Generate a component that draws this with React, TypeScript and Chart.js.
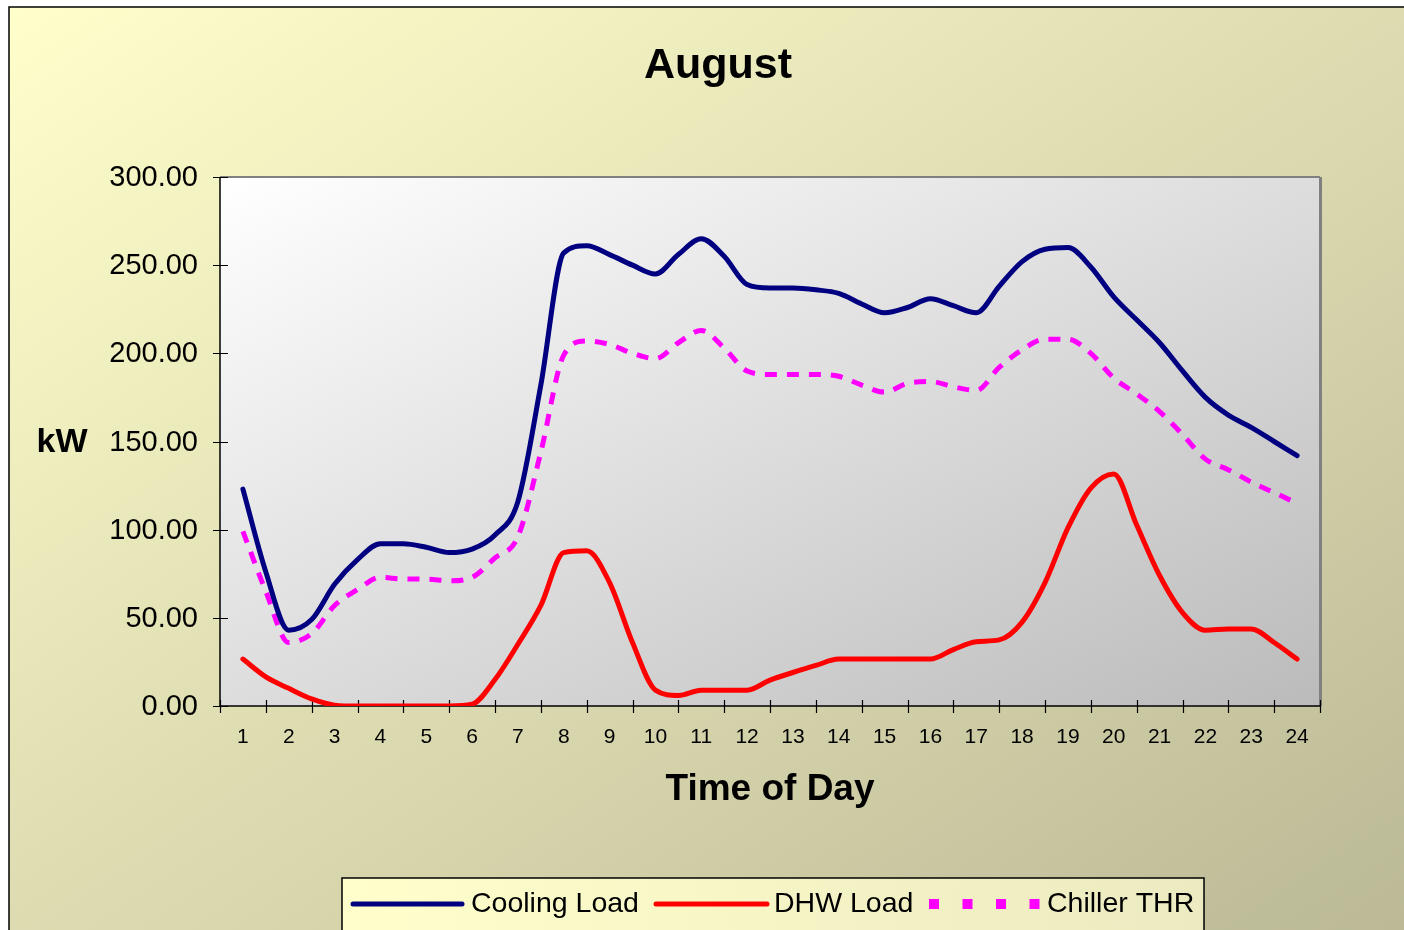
import { useEffect, useRef } from "react";
import { Chart, registerables } from "chart.js";

Chart.register(...registerables);

const W = 1404;
const H = 930;

const hours = [1, 1.5, 2, 2.5, 3, 3.5, 4, 4.5, 5, 5.5, 6, 6.5, 7, 7.5, 8, 8.5, 9, 9.5, 10, 10.5, 11, 11.5, 12, 12.5, 13, 13.5, 14, 14.5, 15, 15.5, 16, 16.5, 17, 17.5, 18, 18.5, 19, 19.5, 20, 20.5, 21, 21.5, 22, 22.5, 23, 23.5, 24];

const coolingLoad = [123, 76, 43, 49, 69, 83, 92, 92, 90, 87, 89, 97, 116, 182, 257, 261, 256, 250, 245, 256, 265, 255, 239, 237, 237, 236, 234, 228, 223, 226, 231, 227, 223, 238, 252, 259, 260, 249, 232, 219, 206, 190, 175, 165, 158, 150, 142];

const dhwLoad = [26.6, 16.5, 10, 4, 0.5, 0, 0, 0, 0, 0, 1, 15, 35, 57, 87, 88, 70, 36, 9, 6, 9, 9, 9, 14.7, 19, 23, 26.6, 26.6, 26.6, 26.6, 26.6, 32, 36.5, 37.5, 47.6, 70, 101, 123.6, 131.6, 102.6, 74, 53, 43, 43.7, 43.7, 36, 26.6];

const chillerTHR = [99, 65, 36, 41, 57, 66, 73, 72, 72, 71, 73, 84, 96, 144, 199, 207, 205, 200, 197, 206, 213, 203, 190, 188, 188, 188, 187, 182, 178, 183, 184, 181, 179, 192, 202, 208, 208, 200, 186, 177, 167, 154, 140, 134, 127, 121, 115];

const xTickLabels = Array.from({ length: 24 }, (_, i) => String(i + 1));
const yTickValues = [0, 50, 100, 150, 200, 250, 300];

const seriesNames = ["Cooling Load", "DHW Load", "Chiller THR"];
const seriesColors = ["#000080", "#FF0000", "#FF00FF"];

const FONT = "'Liberation Sans', Arial, sans-serif";

const toPoints = (vals: number[]) => vals.map((v, i) => ({ x: hours[i], y: v }));

const decorPlugin = {
  id: "decor",
  beforeDraw(chart: any) {
    const ctx = chart.ctx as CanvasRenderingContext2D;
    const { left, top, right, bottom } = chart.chartArea;
    ctx.save();
    const g = ctx.createLinearGradient(9, 7, 858, 1291);
    g.addColorStop(0, "#FFFFCC");
    g.addColorStop(1, "#BBB996");
    ctx.fillStyle = g;
    ctx.fillRect(9, 7, W, H);
    ctx.strokeStyle = "#000";
    ctx.lineWidth = 1.5;
    ctx.strokeRect(9, 7, W + 50, H + 50);
    const pg = ctx.createLinearGradient(left, top, left + 413, top + 859);
    pg.addColorStop(0, "#FFFFFF");
    pg.addColorStop(1, "#BBBBBB");
    ctx.fillStyle = pg;
    ctx.fillRect(left, top, right - left, bottom - top);
    ctx.strokeStyle = "#808080";
    ctx.lineWidth = 2;
    ctx.beginPath();
    ctx.moveTo(left, top);
    ctx.lineTo(right, top);
    ctx.stroke();
    ctx.lineWidth = 3;
    ctx.beginPath();
    ctx.moveTo(right + 0.5, top);
    ctx.lineTo(right + 0.5, bottom);
    ctx.stroke();
    ctx.restore();
  },
  beforeDatasetsDraw(chart: any) {
    const ctx = chart.ctx as CanvasRenderingContext2D;
    const { left, top, right, bottom } = chart.chartArea;
    const xs = chart.scales.x;
    const ys = chart.scales.y;
    ctx.save();
    ctx.strokeStyle = "#000";
    ctx.lineWidth = 1.5;
    ctx.beginPath();
    ctx.moveTo(left, top);
    ctx.lineTo(left, bottom);
    ctx.lineTo(right, bottom);
    ctx.stroke();
    ctx.lineWidth = 1.2;
    ctx.beginPath();
    yTickValues.forEach((v) => {
      const y = Math.round(ys.getPixelForValue(v)) + 0.5;
      ctx.moveTo(left - 7, y);
      ctx.lineTo(left + 8, y);
    });
    for (let i = 0; i <= 24; i++) {
      const x = Math.round(xs.getPixelForValue(i + 0.5)) + 0.5;
      ctx.moveTo(x, bottom - 6);
      ctx.lineTo(x, bottom + 7);
    }
    ctx.stroke();
    ctx.fillStyle = "#000";
    ctx.font = `29px ${FONT}`;
    ctx.textAlign = "right";
    ctx.textBaseline = "middle";
    yTickValues.forEach((v) => {
      ctx.fillText(v.toFixed(2), 198, ys.getPixelForValue(v) + 1);
    });
    ctx.font = `21px ${FONT}`;
    ctx.textAlign = "center";
    xTickLabels.forEach((lab, i) => {
      ctx.fillText(lab, xs.getPixelForValue(i + 1), 737);
    });
    ctx.restore();
  },
  afterDraw(chart: any) {
    const ctx = chart.ctx as CanvasRenderingContext2D;
    const { left, top, right, bottom } = chart.chartArea;
    ctx.save();
    ctx.fillStyle = "#000";
    ctx.textAlign = "center";
    ctx.textBaseline = "middle";
    ctx.font = `bold 43px ${FONT}`;
    ctx.fillText("August", 718, 66);
    ctx.font = `bold 37px ${FONT}`;
    ctx.fillText("Time of Day", (left + right) / 2, 790);
    ctx.font = `bold 34px ${FONT}`;
    ctx.fillText("kW", 62, (top + bottom) / 2 + 1);

    const lg = ctx.createLinearGradient(342, 878, 1204, 940);
    lg.addColorStop(0, "#FFFFCC");
    lg.addColorStop(1, "#ECEAC0");
    ctx.fillStyle = lg;
    ctx.fillRect(342, 878, 862, 80);
    ctx.strokeStyle = "#000";
    ctx.lineWidth = 1.5;
    ctx.strokeRect(342, 878, 862, 80);
    const ly = 904;
    const items = [
      { x0: 353, x1: 462, tx: 471 },
      { x0: 656, x1: 767, tx: 774 },
      { x0: 929, x1: 1040, tx: 1047 },
    ];
    items.forEach((it, i) => {
      ctx.strokeStyle = seriesColors[i];
      ctx.lineWidth = 5;
      if (i === 2) {
        ctx.fillStyle = seriesColors[i];
        for (let k = 0; k < 4; k++) {
          ctx.fillRect(it.x0 + k * 33.5, ly - 5, 10, 10);
        }
      } else {
        ctx.lineCap = "round";
        ctx.beginPath();
        ctx.moveTo(it.x0, ly);
        ctx.lineTo(it.x1, ly);
        ctx.stroke();
      }
      ctx.fillStyle = "#000";
      ctx.font = `28.5px ${FONT}`;
      ctx.textAlign = "left";
      ctx.textBaseline = "middle";
      ctx.fillText(seriesNames[i], it.tx, ly);
    });
    ctx.restore();
  },
};

const lineCommon = {
  borderWidth: 5,
  pointRadius: 0,
  cubicInterpolationMode: "monotone",
  borderJoinStyle: "round",
  fill: false,
};

export default function App() {
  const ref = useRef<HTMLCanvasElement>(null);
  useEffect(() => {
    if (!ref.current) return;
    const chart = new Chart(ref.current, {
      type: "line",
      data: {
        datasets: [
          {
            ...lineCommon,
            label: seriesNames[0],
            data: toPoints(coolingLoad),
            borderColor: seriesColors[0],
            borderCapStyle: "round",
          },
          {
            ...lineCommon,
            label: seriesNames[1],
            data: toPoints(dhwLoad),
            borderColor: seriesColors[1],
            borderCapStyle: "round",
          },
          {
            ...lineCommon,
            label: seriesNames[2],
            data: toPoints(chillerTHR),
            borderColor: seriesColors[2],
            borderDash: [12, 10],
            borderCapStyle: "butt",
          },
        ],
      },
      options: {
        responsive: false,
        animation: false,
        devicePixelRatio: 1,
        layout: { padding: { top: 177, right: 84, left: 0, bottom: 0 } },
        plugins: {
          legend: { display: false },
          title: { display: false },
          tooltip: { enabled: false },
        },
        scales: {
          x: {
            type: "linear",
            min: 0.5,
            max: 24.5,
            grid: { display: false },
            border: { display: false },
            ticks: { display: false },
            afterFit: (s: any) => {
              s.height = H - 706;
            },
          },
          y: {
            min: 0,
            max: 300,
            grid: { display: false },
            border: { display: false },
            ticks: { display: false },
            afterFit: (s: any) => {
              s.width = 220;
            },
          },
        },
      } as any,
      plugins: [decorPlugin],
    });
    return () => chart.destroy();
  }, []);
  return (
    <div style={{ position: "absolute", left: 0, top: 0, width: W, height: H, overflow: "hidden" }}>
      <canvas ref={ref} width={W} height={H} style={{ display: "block", width: W, height: H }} />
    </div>
  );
}
